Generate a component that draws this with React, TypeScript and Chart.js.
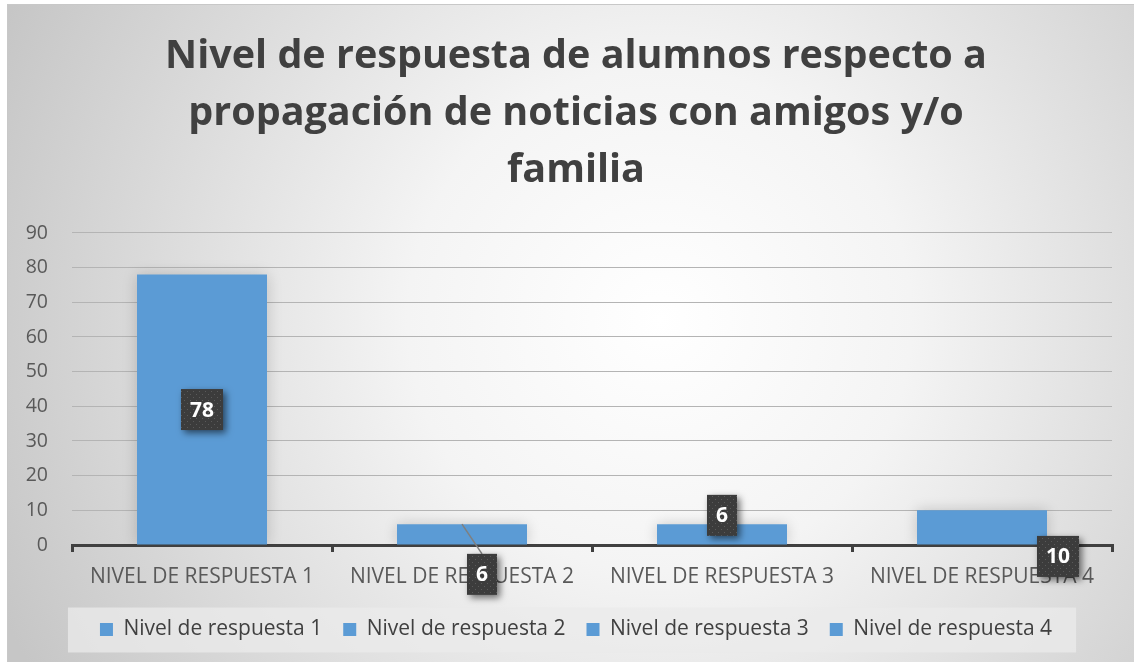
import React, { useEffect, useRef } from "react";
import { Chart, registerables } from "chart.js";

Chart.register(...registerables);

const titleLines = [
  "Nivel de respuesta de alumnos respecto a",
  "propagación de noticias con amigos y/o",
  "familia",
];
const categories = [
  "NIVEL DE RESPUESTA 1",
  "NIVEL DE RESPUESTA 2",
  "NIVEL DE RESPUESTA 3",
  "NIVEL DE RESPUESTA 4",
];
const seriesNames = [
  "Nivel de respuesta 1",
  "Nivel de respuesta 2",
  "Nivel de respuesta 3",
  "Nivel de respuesta 4",
];
const values = [78, 6, 6, 10];
const yMin = 0;
const yMax = 90;
const yStep = 10;

// label placement offsets (px) relative to the bar's middle
const labelOffsets: [number, number][] = [
  [0, 0],
  [20, 40],
  [0, -19],
  [76, 29],
];
const leaderLine = [false, true, false, false];

const FONT = "'Open Sans', Lato, sans-serif";
const BAR_COLOR = "#5B9BD5";

export default function App() {
  const ref = useRef<HTMLCanvasElement | null>(null);

  useEffect(() => {
    const canvas = ref.current!;
    const W = 1134;
    const H = 662;

    const bgPlugin = {
      id: "bg",
      beforeDraw(chart: any) {
        const ctx = chart.ctx;
        ctx.save();
        ctx.fillStyle = "#ffffff";
        ctx.fillRect(0, 0, W, H);
        const g = ctx.createRadialGradient(660, 320, 0, 660, 320, 720);
        g.addColorStop(0, "#ffffff");
        g.addColorStop(0.35, "#f4f4f4");
        g.addColorStop(1, "#c6c6c6");
        ctx.fillStyle = g;
        ctx.fillRect(7, 4, W - 7, H - 4);
        ctx.strokeStyle = "#c8c8c8";
        ctx.lineWidth = 1;
        ctx.strokeRect(7.5, 4.5, W - 7, H - 4);

        // legend background
        const lg = chart.legend;
        if (lg && lg.legendHitBoxes && lg.legendHitBoxes.length) {
          const hb = lg.legendHitBoxes;
          const left = hb[0].left - 32;
          const right = hb[hb.length - 1].left + hb[hb.length - 1].width + 24;
          const midY = hb[0].top + hb[0].height / 2;
          ctx.fillStyle = "rgba(235,235,235,0.75)";
          ctx.fillRect(left, midY - 22, right - left, 45);
        }
        ctx.restore();
      },
      beforeDatasetsDraw(chart: any) {
        const ctx = chart.ctx;
        ctx.save();
        ctx.shadowColor = "rgba(0,0,0,0.18)";
        ctx.shadowBlur = 14;
        ctx.shadowOffsetX = 0;
        ctx.shadowOffsetY = 0;
      },
      afterDatasetsDraw(chart: any) {
        chart.ctx.restore();
      },
    };

    const pattern = (() => {
      const c = document.createElement("canvas");
      c.width = 6;
      c.height = 6;
      const p = c.getContext("2d")!;
      p.fillStyle = "#3c3c3c";
      p.fillRect(0, 0, 6, 6);
      p.fillStyle = "#5a5a5a";
      p.fillRect(1, 1, 1, 1);
      p.fillRect(4, 4, 1, 1);
      return c;
    })();

    const labelPlugin = {
      id: "dlabels",
      afterDraw(chart: any) {
        const ctx = chart.ctx;
        ctx.save();
        values.forEach((v, i) => {
          const meta = chart.getDatasetMeta(i);
          const el = meta.data[i];
          if (!el) return;
          const midY = (el.y + el.base) / 2;
          const cx = el.x + labelOffsets[i][0];
          const cy = midY + labelOffsets[i][1];
          const txt = String(v);
          ctx.font = `bold 21px ${FONT}`;
          const tw = ctx.measureText(txt).width;
          const bw = tw + 18;
          const bh = 41;
          if (leaderLine[i]) {
            ctx.strokeStyle = "#7f7f7f";
            ctx.lineWidth = 1.5;
            ctx.beginPath();
            ctx.moveTo(el.x, el.y);
            ctx.lineTo(cx, cy - bh / 2);
            ctx.stroke();
          }
          ctx.save();
          ctx.shadowColor = "rgba(0,0,0,0.55)";
          ctx.shadowBlur = 7;
          ctx.shadowOffsetX = 3;
          ctx.shadowOffsetY = 3;
          ctx.fillStyle = ctx.createPattern(pattern, "repeat");
          ctx.fillRect(cx - bw / 2, cy - bh / 2, bw, bh);
          ctx.restore();
          ctx.fillStyle = "#ffffff";
          ctx.textAlign = "center";
          ctx.textBaseline = "middle";
          ctx.fillText(txt, cx, cy + 1);
        });
        ctx.restore();
      },
    };

    const chart = new Chart(canvas, {
      type: "bar",
      data: {
        labels: categories,
        datasets: seriesNames.map((name, i) => ({
          label: name,
          data: values.map((v, j) => (j === i ? v : null)),
          backgroundColor: BAR_COLOR,
          borderWidth: 0,
          grouped: false,
          categoryPercentage: 0.5,
          barPercentage: 1,
        })),
      },
      options: {
        responsive: false,
        animation: false,
        devicePixelRatio: 1,
        layout: { padding: { left: 40, right: 22, top: 0, bottom: 12 } },
        plugins: {
          tooltip: { enabled: false },
          title: {
            display: true,
            text: titleLines,
            color: "#404040",
            font: { family: FONT, size: 39.5, weight: "bold", lineHeight: 1.443 },
            padding: { top: 28, bottom: 34 },
          },
          legend: {
            position: "bottom",
            labels: {
              color: "#404040",
              font: { family: FONT, size: 21 },
              boxWidth: 13,
              boxHeight: 13,
              padding: 21,
            },
          },
        },
        scales: {
          x: {
            offset: true,
            grid: {
              display: true,
              offset: true,
              drawOnChartArea: false,
              drawTicks: true,
              tickLength: 7,
              color: "#404040",
              lineWidth: 3,
            },
            border: { display: true, color: "#404040", width: 3 },
            ticks: {
              color: "#595959",
              font: { family: FONT, size: 21 },
              padding: 12,
              maxRotation: 0,
            },
            afterFit(scale: any) {
              scale.height = 53;
            },
          },
          y: {
            min: yMin,
            max: yMax,
            ticks: {
              stepSize: yStep,
              color: "#595959",
              font: { family: FONT, size: 19.5 },
              padding: 24,
            },
            grid: { color: "#b4b4b4", lineWidth: 1, drawTicks: false },
            border: { display: false },
            afterFit(scale: any) {
              scale.width = 32;
              // let tick labels extend into the left margin without clipping
              scale._computeLabelArea = () => undefined;
            },
          },
        },
      },
      plugins: [bgPlugin, labelPlugin],
    });
    return () => chart.destroy();
  }, []);

  return (
    <div style={{ position: "absolute", left: 0, top: 0, width: 1134, height: 662 }}>
      <canvas ref={ref} width={1134} height={662} style={{ width: 1134, height: 662, display: "block" }} />
    </div>
  );
}
